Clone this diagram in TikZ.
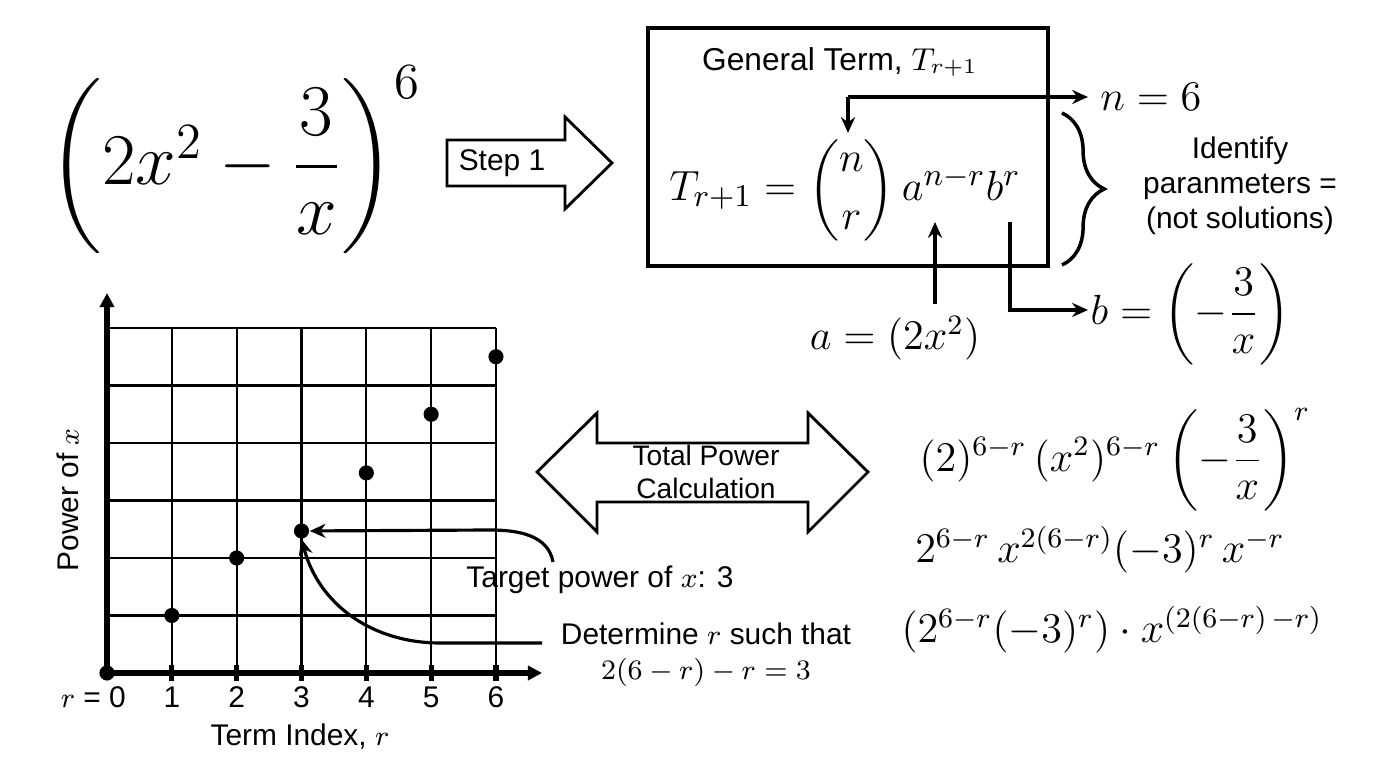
\documentclass[tikz,border=0pt]{standalone}
\usepackage{amsmath}
\usepackage{fontspec}
\setmainfont{Liberation Sans}
\usetikzlibrary{arrows.meta,positioning,decorations.pathreplacing}
\tikzset{
  txt/.style={font=\fontsize{8.5}{10}\selectfont, align=center, inner sep=1pt},
  mth/.style={font=\fontsize{12}{14}\selectfont},
  conn/.style={-{Stealth[length=4.5pt,width=4pt]}, line width=0.9pt},
  axis/.style={-{Triangle[length=4pt,width=4pt]}, line width=1.5pt},
  blockarrow/.style={draw, line width=0.8pt, line join=miter},
  dot/.style={circle, fill=black, inner sep=0pt, minimum size=4.3pt}
}
\begin{document}
\begin{tikzpicture}[x=0.01cm, y=-0.01cm]
\useasboundingbox (0,0) rectangle (1376,768);
% Problem statement
\node[font=\fontsize{20}{24}\selectfont] (expr) at (235,160) {$\left(2x^2-\dfrac{3}{x}\right)^{6}$};
\draw[blockarrow] (447,140) -- (565,140) -- (565,117) -- (612,163) -- (565,209) -- (565,186) -- (447,186) -- cycle;
\node[txt] (step) at (502,163) {Step 1};
% General term box
\draw[line width=1pt] (648,28) rectangle (1048,266);
\node[txt, font=\fontsize{9}{11}\selectfont] (gtitle) at (840,62) {General Term, $T_{r+1}$};
\node[font=\fontsize{12.5}{15}\selectfont] (tterm) at (845,190) {$T_{r+1}=\dbinom{n}{r}\,a^{n-r}b^{r}$};
\coordinate (ntop) at (848,133);
\coordinate (abot) at (935,222);
\coordinate (bbot) at (1010,222);
\node[mth, anchor=west] (nval) at (1088,97) {$n=6$};
\node[mth] (aval) at (895,338) {$a=\left(2x^{2}\right)$};
\node[mth, anchor=west, inner sep=0pt] (bval) at (1090,314) {$b=\left(-\dfrac{3}{x}\right)$};
\draw[conn] (848,97) -- (ntop);
\draw[conn] (848,97) -- (nval.west);
\draw[conn] (aval.north -| abot) -- (abot);
\draw[conn] (bbot) -- (1010,310) -- (1088,310);
\draw[decorate, decoration={brace, amplitude=12pt}, line width=1pt] (1062,113) -- (1062,265);
\node[txt] (ident) at (1240,186) {Identify\\paranmeters =\\(not solutions)};
% Axes and grid
\foreach \i in {1,...,6}
  \draw[line width=0.6pt] (107+64.83*\i,328) -- (107+64.83*\i,673);
\foreach \j in {0,...,5}
  \draw[line width=0.6pt] (107,328+57.5*\j) -- (496,328+57.5*\j);
\draw[axis] (107,673) -- (107,293);
\draw[axis] (107,673) -- (542,673);
\foreach \i in {1,...,6} {
  \draw[line width=1.5pt] (107+64.83*\i,665) -- (107+64.83*\i,681);
  \node[txt] at (107+64.83*\i,697) {\i};
}
\node[txt, anchor=east] (rzero) at (130,697) {$r$ = 0};
\node[txt] (xlabel) at (300,737) {Term Index, $r$};
\node[txt, rotate=90] (ylabel) at (68,500) {Power of $x$};
\foreach \r/\p in {0/0,1/1,2/2,3/2.47,4/3.48,5/4.5,6/5.5}
  \node[dot] (p\r) at (107+64.83*\r,673-57.5*\p) {};
% Target annotations
\node[txt] (target) at (600,580) {Target power of $x$: 3};
\node[txt] (determ) at (706,655) {Determine $r$ such that\\$2(6-r)-r=3$};
\coordinate (tstart) at (553,562);
\coordinate (dstart) at (542,643);
\draw[conn] (tstart) to[out=100,in=0] (490,530) -- (p3.east);
\draw[conn] (dstart) -- (440,643) to[out=180,in=-75] (p3.south);
% Power calculation
\draw[blockarrow] (537,472) -- (597,413) -- (597,443) -- (808,443) -- (808,413) -- (868,472)
  -- (808,532) -- (808,502) -- (597,502) -- (597,532) -- cycle;
\node[txt, font=\fontsize{8}{9.5}\selectfont] (calc) at (706,472) {Total Power\\Calculation};
\node[mth] (line1) at (1115,460) {$(2)^{6-r}\,(x^{2})^{6-r}\left(-\dfrac{3}{x}\right)^{r}$};
\node[mth] (line2) at (1100,550) {$2^{6-r}\,x^{2(6-r)}(-3)^{r}\,x^{-r}$};
\node[mth] (line3) at (1112,630) {$(2^{6-r}(-3)^{r})\cdot x^{(2(6-r)\,-r)}$};
\end{tikzpicture}
\end{document}
